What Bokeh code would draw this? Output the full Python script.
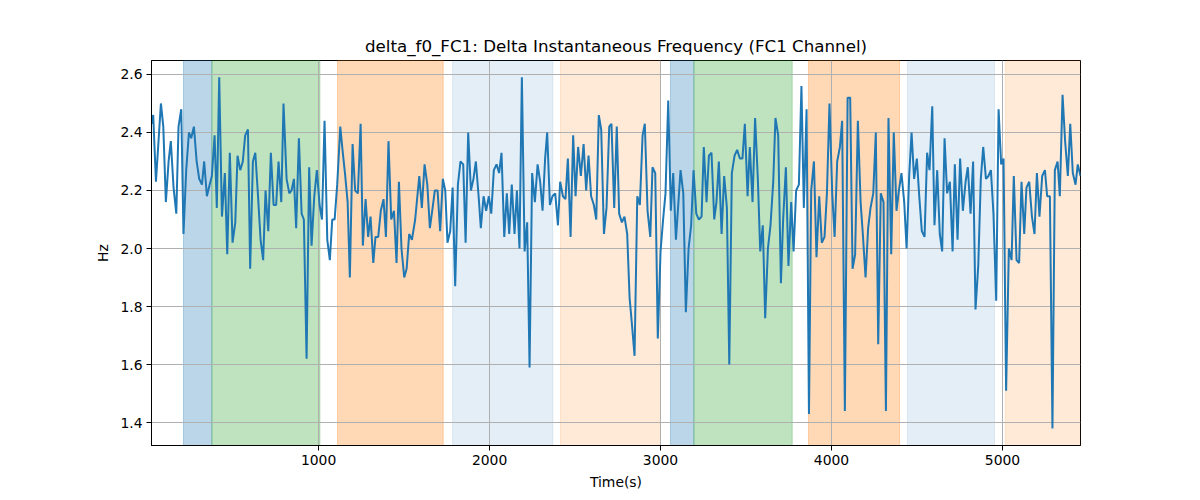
from bokeh.plotting import figure
from bokeh.models import BoxAnnotation, FixedTicker, NumeralTickFormatter, Range1d
from bokeh.embed import file_html
from bokeh.resources import INLINE

title = "delta_f0_FC1: Delta Instantaneous Frequency (FC1 Channel)"

time_s = [23, 33, 49, 78, 92, 107, 123, 136, 152, 168, 181, 197, 210, 226, 242, 255, 271, 287, 302, 318,
          331, 347, 363, 376, 392, 405, 419, 435, 452, 466, 481, 497, 513, 526, 542, 557, 571, 587, 600, 616,
          630, 645, 661, 676, 690, 706, 721, 737, 752, 766, 782, 795, 813, 829, 842, 856, 869, 885, 901, 914,
          930, 945, 959, 975, 990, 1006, 1020, 1035, 1051, 1066, 1080, 1094, 1109, 1127, 1140, 1156, 1170, 1183, 1199, 1214,
          1230, 1246, 1259, 1275, 1290, 1304, 1320, 1333, 1349, 1364, 1380, 1394, 1409, 1425, 1441, 1456, 1470, 1485, 1501, 1515,
          1530, 1546, 1565, 1589, 1604, 1620, 1636, 1651, 1667, 1680, 1696, 1711, 1727, 1741, 1754, 1770, 1784, 1799, 1815, 1830,
          1846, 1860, 1875, 1891, 1906, 1920, 1936, 1949, 1965, 1980, 1996, 2010, 2025, 2041, 2056, 2070, 2086, 2101, 2115, 2130,
          2146, 2160, 2175, 2189, 2205, 2220, 2234, 2249, 2265, 2281, 2296, 2310, 2325, 2337, 2353, 2368, 2384, 2400, 2413, 2429,
          2444, 2458, 2474, 2489, 2503, 2518, 2534, 2550, 2565, 2579, 2594, 2610, 2624, 2639, 2653, 2669, 2684, 2700, 2713, 2729,
          2744, 2758, 2774, 2789, 2805, 2819, 2834, 2848, 2864, 2879, 2895, 2908, 2924, 2940, 2953, 2969, 2984, 3000, 3015, 3029,
          3045, 3060, 3074, 3090, 3117, 3133, 3148, 3164, 3179, 3193, 3209, 3224, 3240, 3253, 3269, 3283, 3298, 3314, 3327, 3341,
          3357, 3372, 3388, 3402, 3417, 3433, 3448, 3464, 3479, 3493, 3509, 3522, 3538, 3553, 3569, 3583, 3598, 3612, 3628, 3643,
          3659, 3672, 3688, 3704, 3717, 3733, 3748, 3764, 3778, 3793, 3809, 3824, 3838, 3854, 3868, 3881, 3897, 3912, 3928, 3943,
          3959, 3973, 3988, 4004, 4018, 4033, 4049, 4062, 4078, 4094, 4109, 4123, 4138, 4154, 4170, 4183, 4199, 4214, 4228, 4244,
          4259, 4273, 4288, 4304, 4318, 4333, 4349, 4364, 4380, 4394, 4409, 4425, 4439, 4454, 4468, 4483, 4499, 4513, 4528, 4544,
          4559, 4573, 4589, 4602, 4618, 4633, 4647, 4661, 4676, 4692, 4708, 4721, 4737, 4752, 4768, 4784, 4797, 4813, 4828, 4842,
          4858, 4873, 4887, 4903, 4918, 4932, 4947, 4963, 4977, 4992, 5006, 5021, 5037, 5053, 5066, 5082, 5097, 5111, 5127, 5140,
          5156, 5172, 5187, 5201, 5216, 5232, 5248, 5261, 5277, 5292, 5306, 5322, 5335, 5351, 5366, 5382, 5396, 5411, 5427, 5440,
          5456]

delta_f0 = [2.43, 2.46, 2.23, 2.50, 2.42, 2.16, 2.30, 2.37, 2.21, 2.12, 2.42, 2.48, 2.05, 2.27, 2.40, 2.38, 2.42, 2.30, 2.24, 2.22,
            2.30, 2.18, 2.22, 2.25, 2.39, 2.14, 2.59, 2.11, 2.26, 1.98, 2.33, 2.02, 2.09, 2.32, 2.27, 2.30, 2.39, 2.41, 1.93, 2.30,
            2.33, 2.19, 2.03, 1.96, 2.20, 2.06, 2.33, 2.15, 2.15, 2.30, 2.16, 2.50, 2.24, 2.19, 2.20, 2.24, 2.07, 2.38, 2.12, 2.10,
            1.62, 2.28, 2.01, 2.18, 2.27, 2.15, 2.10, 2.44, 2.03, 1.96, 2.10, 2.10, 2.22, 2.42, 2.34, 2.25, 2.16, 1.90, 2.36, 2.20,
            2.19, 2.43, 2.01, 2.17, 2.04, 2.11, 1.95, 2.04, 2.04, 2.13, 2.17, 2.04, 2.37, 2.10, 2.13, 1.95, 2.23, 2.00, 1.90, 1.93,
            2.05, 2.03, 2.10, 2.25, 2.14, 2.29, 2.22, 2.07, 2.14, 2.20, 2.20, 2.06, 2.24, 2.20, 2.02, 2.06, 2.21, 1.87, 2.22, 2.30,
            2.29, 2.02, 2.40, 2.20, 2.24, 2.30, 2.18, 2.07, 2.18, 2.13, 2.18, 2.12, 2.27, 2.29, 2.26, 2.33, 2.04, 2.19, 2.05, 2.22,
            2.05, 2.20, 2.00, 2.59, 1.99, 2.09, 1.59, 2.26, 2.16, 2.29, 2.23, 2.13, 2.31, 2.40, 2.15, 2.18, 2.19, 2.08, 2.23, 2.18,
            2.17, 2.31, 2.04, 2.39, 2.18, 2.35, 2.25, 2.36, 2.20, 2.32, 2.18, 2.15, 2.10, 2.46, 2.41, 2.05, 2.14, 2.42, 2.43, 2.14,
            2.42, 2.12, 2.09, 2.11, 2.05, 1.83, 1.73, 1.63, 2.18, 2.15, 2.39, 2.43, 2.13, 2.04, 2.28, 2.26, 1.69, 1.99, 2.10, 2.19,
            2.51, 2.13, 2.26, 2.03, 2.27, 2.19, 1.78, 2.00, 2.08, 2.27, 2.12, 2.10, 2.11, 2.35, 2.16, 2.32, 2.33, 2.10, 2.16, 2.30,
            2.05, 2.25, 2.14, 1.60, 2.26, 2.32, 2.34, 2.31, 2.31, 2.43, 2.18, 2.35, 2.16, 2.45, 2.24, 1.99, 2.08, 1.76, 2.00, 2.08,
            2.23, 2.45, 2.39, 1.88, 2.10, 2.28, 1.94, 2.16, 1.99, 2.20, 2.22, 2.56, 2.14, 2.48, 1.43, 2.20, 2.30, 1.97, 2.18, 2.02,
            2.04, 2.19, 2.50, 2.19, 2.04, 2.30, 2.35, 2.44, 1.44, 2.52, 2.52, 1.93, 1.98, 2.44, 2.16, 2.05, 1.90, 2.07, 2.14, 2.19,
            2.40, 1.67, 2.19, 2.16, 1.44, 2.45, 1.98, 2.40, 2.13, 2.20, 2.26, 2.16, 2.00, 2.25, 2.40, 2.24, 2.31, 2.18, 2.06, 2.04,
            2.33, 2.27, 2.49, 2.08, 2.27, 2.05, 1.99, 2.38, 2.19, 2.23, 1.99, 2.29, 2.03, 2.31, 2.13, 2.23, 2.28, 2.12, 2.30, 1.79,
            1.94, 2.24, 2.35, 2.24, 2.25, 2.27, 2.12, 1.82, 2.48, 2.29, 2.31, 1.51, 2.00, 1.96, 2.25, 1.96, 1.95, 2.23, 2.05, 2.21,
            2.23, 2.11, 2.05, 2.26, 2.11, 2.25, 2.27, 2.18, 2.18, 1.38, 2.27, 2.30, 2.18, 2.53, 2.37, 2.25, 2.43, 2.26, 2.22, 2.29,
            2.25]

span_start = [210, 376, 1111, 1784, 2415, 3058, 3195, 3865, 4444, 5017]
span_end = [376, 1008, 1729, 2370, 3000, 3195, 3770, 4398, 4953, 5480]
span_color = ["#1f77b4", "#2ca02c", "#ff7f0e", "#1f77b4", "#ff7f0e",
              "#1f77b4", "#2ca02c", "#ff7f0e", "#1f77b4", "#ff7f0e"]
span_alpha = [0.3, 0.3, 0.3, 0.12, 0.16, 0.3, 0.3, 0.3, 0.12, 0.16]

x_ticks = [1000, 2000, 3000, 4000, 5000]
y_ticks = [1.4, 1.6, 1.8, 2.0, 2.2, 2.4, 2.6]

FONT = "DejaVu Sans"

p = figure(width=1184, height=492, output_backend="svg", toolbar_location=None,
           x_range=Range1d(min(time_s), max(time_s)),
           y_range=Range1d(1.321, 2.648),
           title=title, x_axis_label="Time(s)", y_axis_label="Hz")
p.min_border_left = 151
p.min_border_right = 104
p.min_border_top = 60
p.min_border_bottom = 47

p.title.align = "center"
p.title.text_font = FONT
p.title.text_font_size = "16.7px"
p.title.text_font_style = "normal"
p.title.text_color = "black"

for s, e, c, a in zip(span_start, span_end, span_color, span_alpha):
    p.add_layout(BoxAnnotation(left=s, right=e, fill_color=c, fill_alpha=a,
                               line_color=c, line_alpha=a, line_width=1, level="image"))

p.line(time_s, delta_f0, line_color="#1f77b4", line_width=2)

p.xaxis.ticker = FixedTicker(ticks=x_ticks)
p.yaxis.ticker = FixedTicker(ticks=y_ticks)
p.xaxis.formatter = NumeralTickFormatter(format="0")
p.yaxis.formatter = NumeralTickFormatter(format="0.0")

for ax in (p.xaxis, p.yaxis):
    ax.axis_line_color = "black"
    ax.major_tick_line_color = "black"
    ax.minor_tick_line_color = None
    ax.major_tick_in = 0
    ax.major_tick_out = 5
    ax.major_label_text_font = FONT
    ax.major_label_text_font_size = "13.9px"
    ax.major_label_text_color = "black"
    ax.axis_label_text_font = FONT
    ax.axis_label_text_font_size = "13.9px"
    ax.axis_label_text_font_style = "normal"
    ax.axis_label_text_color = "black"
    ax.major_label_standoff = 4
    ax.axis_label_standoff = 6

p.xgrid.grid_line_color = "#b0b0b0"
p.ygrid.grid_line_color = "#b0b0b0"
p.xgrid.grid_line_width = 1
p.ygrid.grid_line_width = 1
p.outline_line_color = "black"
p.outline_line_width = 1
p.background_fill_color = "white"
p.border_fill_color = "white"

open("out.html", "w").write(file_html(p, INLINE))
